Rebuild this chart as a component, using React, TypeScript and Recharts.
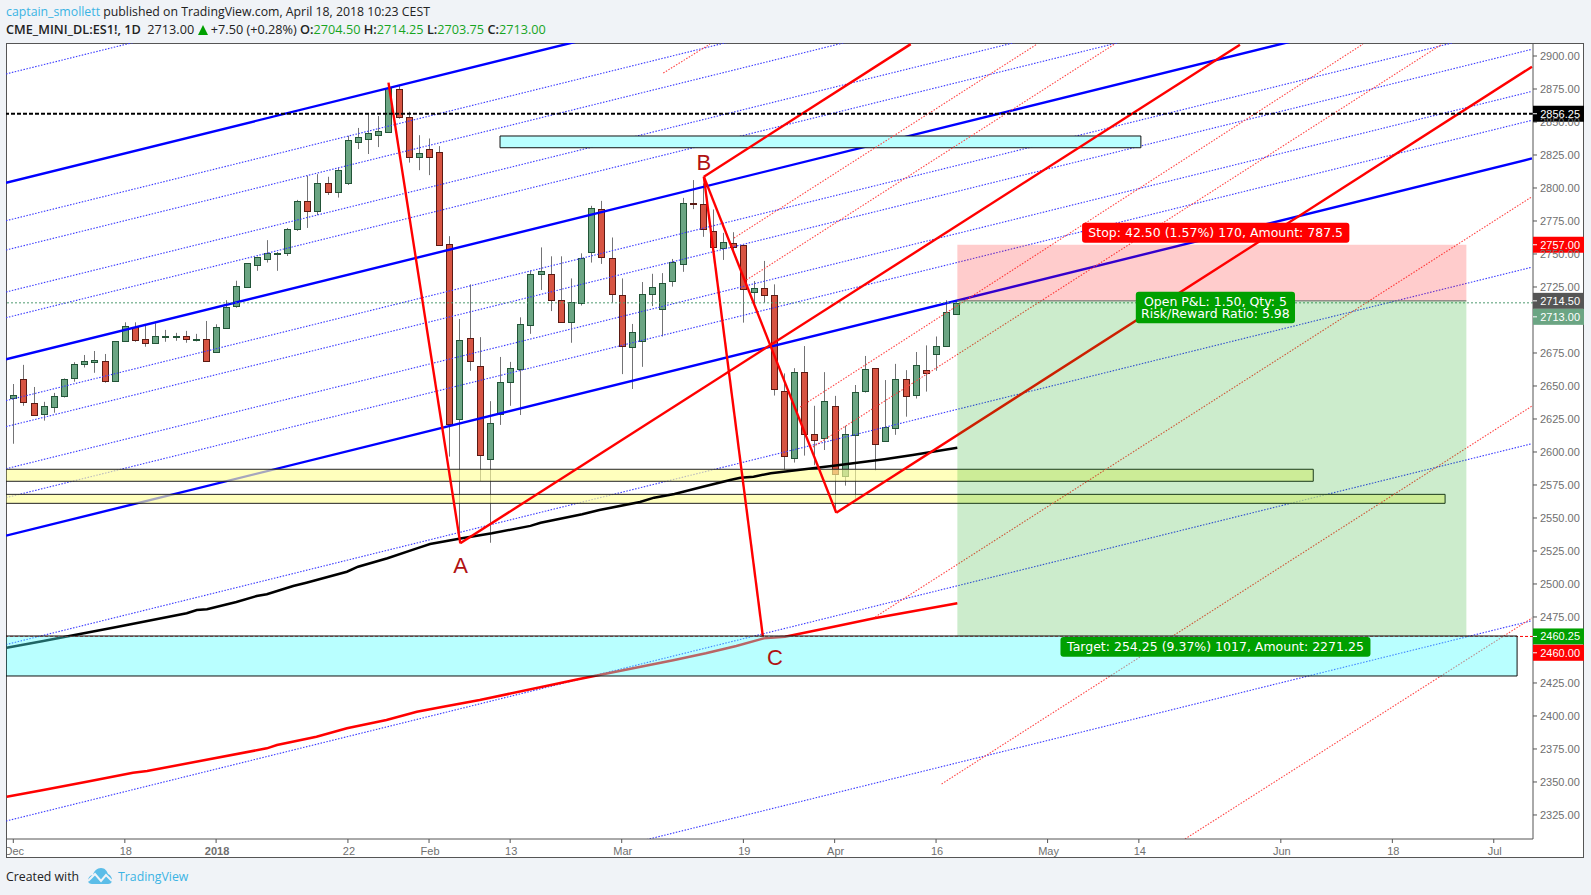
import React from 'react';
import { ComposedChart, Bar, Line, XAxis, YAxis, ReferenceLine, ReferenceArea, ReferenceDot, Label } from 'recharts';

const opens = [2641.25,2655,2637,2629,2633.75,2642.75,2655.75,2666.5,2668,2668.75,2653.5,2683.75,2695,2685.5,2682.25,2687,2687,2687.5,2684.5,2685.5,2675.5,2693.75,2710.5,2725.25,2742,2746.5,2750.5,2750.5,2769.25,2790,2782.75,2803.5,2797.25,2804,2835,2837.25,2840.5,2842.5,2874.75,2853.5,2823.25,2829.25,2827,2757.25,2624.75,2686,2665,2594.5,2628.5,2653.25,2662.5,2696,2734.5,2734.5,2715,2698.75,2713,2751.75,2783.75,2746.75,2718.75,2679.25,2683.75,2719.5,2708,2729.25,2742.25,2789,2787.5,2767.25,2754.75,2758,2756.5,2721.5,2724,2718.75,2646,2595.25,2660.5,2613.5,2610.5,2635,2581.5,2612.5,2646,2663.5,2608,2618,2655,2643,2662,2674,2680,2704.5];
const highs = [2651.5,2666,2649.25,2638,2644.75,2655.75,2668,2673.5,2676.5,2674.25,2683.75,2698.25,2698.25,2695.75,2697.5,2692.5,2690.25,2691.75,2689.5,2699.25,2696.75,2715,2729.75,2743,2748,2760.5,2751.5,2769.75,2791,2809.25,2810.5,2808.5,2815.5,2839.5,2845.5,2856.5,2854.5,2879.25,2878,2857.75,2840,2837.5,2831.75,2763.5,2700.75,2727,2687,2638.5,2672,2668.25,2702,2737.5,2755,2748.25,2748.25,2731.5,2750.5,2786.5,2790.25,2762.5,2731.5,2697,2728.75,2735,2735.5,2746.25,2792.5,2806,2803.5,2783.75,2766,2766.5,2756.5,2729.5,2744.75,2727,2659.5,2663.5,2680.25,2635,2660.5,2642.5,2619.75,2650.75,2672.75,2663.5,2654.5,2666.75,2662,2675.75,2680.75,2687.5,2715,2714.25];
const lows = [2606.25,2635,2627.25,2623.75,2629.75,2641.25,2653.25,2664,2660,2652.5,2653.5,2683.75,2683.5,2679.75,2682.25,2683.5,2684.25,2682.75,2683.75,2668.75,2675.5,2693.25,2709.25,2724.75,2737.25,2743.5,2737.25,2748.5,2767.5,2769.75,2779.5,2794.75,2792.75,2802.25,2829.5,2825.75,2831,2842,2852.5,2819.25,2813.5,2809.75,2756.5,2596.5,2534.5,2661.5,2578,2531.25,2620.5,2635,2628,2689.5,2722.75,2706.75,2698.75,2682.75,2711,2743.5,2742.5,2713,2659,2647.75,2664.5,2710.5,2687.5,2725.25,2736.5,2784,2763,2755.5,2745.5,2751.75,2698,2712.5,2713,2642.75,2586.5,2592,2597.25,2590,2601.5,2554,2574.5,2563.5,2645,2586,2608,2613,2626.75,2640.5,2645.75,2661.5,2680,2703.75];
const closes = [2643,2637.5,2627.75,2634.5,2642.25,2655,2666.5,2668.75,2669.5,2653.5,2683.75,2695.75,2684.5,2682.25,2687.5,2687.5,2687.5,2685.5,2685.5,2668.75,2694.5,2709.5,2725.5,2743,2747.5,2750.5,2751,2769.25,2790,2782.75,2803.5,2797.25,2813.5,2836,2838.5,2841.5,2843,2875.5,2853.5,2823.25,2826.25,2823.75,2757,2621,2684.5,2668.75,2597.5,2621.75,2652.75,2664,2696.75,2734.5,2737,2715.5,2698.75,2714,2746.75,2784.5,2747.5,2719.5,2680,2690.75,2719.5,2724.75,2727.75,2743.75,2788.5,2788.5,2768.75,2755.5,2758.75,2755.5,2723.25,2724,2718.75,2647.5,2596.75,2660.5,2613.5,2608.75,2638.5,2583,2613.5,2645.25,2662.5,2605.75,2618.75,2655,2642.75,2665.75,2659.5,2680,2705.75,2713];

const blackMA = [[-0.65,2451.7],[2.96,2456.8],[5.92,2461.1],[10.2,2467.4],[17.1,2477.8],[18.1,2480.3],[19.1,2480.8],[22,2486.3],[24,2490.9],[25,2492.2],[27.6,2498.5],[28.9,2501],[32.9,2509.3],[34,2513.1],[36.9,2519.5],[39.8,2527],[41.1,2530.3],[44.1,2534.4],[47.2,2538.4],[51,2544],[52,2546.4],[56.1,2552.8],[57.8,2556],[61.8,2562.1],[63.2,2565.4],[65.2,2568.2],[68,2573.7],[70.7,2578.8],[71.7,2580.5],[73,2581.3],[74.7,2583.9],[77.4,2586.4],[80.9,2589.6],[85.9,2594.5],[88.7,2597.7],[93.1,2603.2]];
const redMA = [[-0.65,2338.8],[2.96,2343.9],[7.24,2350.2],[11.8,2357],[13.2,2358.3],[25,2375.5],[26,2378],[29.9,2384.3],[32.9,2390.7],[36.8,2397],[39.8,2403.2],[42.4,2407],[46,2412.1],[55.7,2427.8],[65.2,2442.4],[68.3,2447.5],[71.3,2453],[74,2458.8],[76.1,2460.1],[80.9,2467.6],[84.9,2474],[93.1,2485.4]];

// channel lines, [price at the left edge, price at the right edge]
const LEFT = -0.72, RIGHT = 149.77;
const blueSolid = [[2804,3089.9],[2670.2,2956.1],[2536.6,2822.4]];
const blueDotted = [[2886.4,3172.3],[2775.2,3061.1],[2753,3038.9],[2721.2,3007.1],[2701.7,2987.6],[2638.9,2924.8],[2619.2,2905.1],[2587.3,2873.2],[2565.4,2851.3],[2454.1,2740],[2320.4,2606.3],[2186.3,2472.2]];
// [bar, price, bar, price]
const redSolid = [[37,2879.8,44.08,2530.8],[68.1,2808.6,73.93,2459.8],[68.1,2808.6,81.16,2554],[44.08,2530.8,120.97,2908.6],[68.1,2808.6,88.5,2909],[81.16,2554,149.77,2891.9]];
const redDotted = [[64.1,2887.1,68.7,2909],[71.07,2762.1,100.96,2909],[72.3,2730.3,108.6,2909],[77.6,2634.1,133.1,2909],[78.86,2603.8,140.9,2909],[85,2475,149.77,2793.4],[91.55,2348.5,149.77,2634.8],[115.55,2306.8,149.77,2474.2]];

const yTicks = [2325,2350,2375,2400,2425,2475,2500,2525,2550,2575,2600,2625,2650,2675,2725,2750,2775,2800,2825,2850,2875,2900];
const xTickLabels: Record<number,string> = {0:'Dec',11:'18',20:'2018',33:'22',41:'Feb',49:'13',60:'Mar',72:'19',81:'Apr',91:'16',102:'May',111:'14',125:'Jun',136:'18',146:'Jul'};
const xTicks = Object.keys(xTickLabels).map(Number);

const rows = opens.map((o,i)=>({i,o,h:highs[i],l:lows[i],c:closes[i],range:[lows[i],highs[i]]}));
const toRows = (a:number[][]) => a.map(([i,v])=>({i,v}));

const AXIS_FONT = '"Liberation Sans", Arial, sans-serif';
const HEAD_FONT = '"Open Sans", sans-serif';

function Candle(props:any){
  const {x,y,width,height,payload} = props;
  const {o,h,l,c} = payload;
  const cx = Math.round(x+width/2)+0.5;
  const span = Math.max(h-l,0.01);
  const yOf = (p:number)=> y+(h-p)/span*height;
  const up = c>=o;
  const t = Math.round(yOf(Math.max(o,c)))+0.5;
  const b = Math.round(yOf(Math.min(o,c)))+0.5;
  return <g>
    <line x1={cx} x2={cx} y1={y} y2={y+height} stroke="#737375" strokeWidth={1}/>
    <rect x={cx-3} y={t} width={6} height={Math.max(b-t,1)} fill={up?'#6ba583':'#d75442'} stroke={up?'#225437':'#5b1a13'} strokeWidth={1}/>
  </g>;
}

function XTick(props:any){
  const {x,y,payload} = props;
  const bold = payload.value===20;
  return <text x={x+1} y={y+10} textAnchor="middle" fontFamily={AXIS_FONT} fontSize={11} fontWeight={bold?700:400} fill="#6f6f6f">{xTickLabels[payload.value]}</text>;
}

function Flag(props:any){
  const {viewBox,text,bg,dy=0,color='#fff'} = props;
  const x0 = viewBox.x+viewBox.width;
  const yc = viewBox.y+dy;
  return <g>
    <rect x={x0} y={yc-8} width={51} height={16} fill={bg}/>
    <line x1={x0} x2={x0+4} y1={yc} y2={yc} stroke="#fff"/>
    <text x={x0+47} y={yc+4} textAnchor="end" fontFamily={AXIS_FONT} fontSize={11} fill={color}>{text}</text>
  </g>;
}

function BoxText(props:any){
  const {viewBox,lines} = props;
  const cx = viewBox.x+viewBox.width/2;
  const cy = viewBox.y+viewBox.height/2;
  const lh = 12.5;
  return <g>{lines.map((t:string,k:number)=>(
    <text key={k} x={cx} y={cy+4.5+(k-(lines.length-1)/2)*lh} textAnchor="middle" fontFamily={'"DejaVu Sans", sans-serif'} fontSize={12.5} fill="#fff">{t}</text>
  ))}</g>;
}

const Seg = (k:string,seg:number[],stroke:string,width:number,dash?:string,z?:number)=>(
  <ReferenceLine key={k} ifOverflow="hidden" segment={[{x:seg[0],y:seg[1]},{x:seg[2],y:seg[3]}]} stroke={stroke} strokeWidth={width} strokeDasharray={dash} zIndex={z}/>
);

const G = '#17a51f';
export default function App(){
  return <div style={{position:'absolute',left:0,top:0,width:1591,height:895,background:'#f0f3f7',overflow:'hidden'}}>
    <div style={{position:'absolute',left:6,top:3,fontFamily:HEAD_FONT,fontSize:12.3,lineHeight:'18px',color:'#222',whiteSpace:'nowrap'}}>
      <span style={{color:'#3bb3e4'}}>captain_smollett</span> published on TradingView.com, April 18, 2018 10:23 CEST
    </div>
    <div style={{position:'absolute',left:6,top:20,fontFamily:HEAD_FONT,fontSize:12.7,lineHeight:'18px',color:'#222',whiteSpace:'nowrap'}}>
      <b style={{fontWeight:600}}>CME_MINI_DL:ES1!, 1D</b> &nbsp;2713.00 <svg width={10} height={10} viewBox="0 0 10 10" style={{verticalAlign:'-1px'}}><path d="M5 0 L10 10 L0 10 Z" fill="#00a000"/></svg> +7.50 (+0.28%) <b style={{fontWeight:600}}>O:</b><span style={{color:G}}>2704.50</span> <b style={{fontWeight:600}}>H:</b><span style={{color:G}}>2714.25</span> <b style={{fontWeight:600}}>L:</b><span style={{color:G}}>2703.75</span> <b style={{fontWeight:600}}>C:</b><span style={{color:G}}>2713.00</span>
    </div>
    <div style={{position:'absolute',left:6,top:43,width:1578,height:815,boxSizing:'border-box',background:'#fff',border:'1px solid #555'}}/>
    <div style={{position:'absolute',left:0,top:0}}>
      <ComposedChart width={1591} height={895} data={rows} margin={{top:43,left:6,right:7,bottom:37}}>
        <XAxis dataKey="i" type="number" domain={[LEFT,149.87]} allowDataOverflow ticks={xTicks} interval={0} tick={<XTick/>} tickSize={4} stroke="#555" height={19}/>
        <YAxis orientation="right" type="number" domain={[2306.8,2909.85]} allowDataOverflow ticks={yTicks} interval={0} tickFormatter={(v:number)=>v.toFixed(2)} tick={{fontFamily:AXIS_FONT,fontSize:11,fill:'#6f6f6f'}} tickSize={4} tickMargin={3} stroke="#555" width={51}/>

        <Bar dataKey="range" barSize={7} isAnimationActive={false} shape={<Candle/>} zIndex={100}/>

        {blueSolid.map((s,k)=>Seg('bs'+k,[LEFT,s[0],RIGHT,s[1]],'#0000ff',2.4,undefined,200))}
        {blueDotted.map((s,k)=>Seg('bd'+k,[LEFT,s[0],RIGHT,s[1]],'#3a3aff',1.1,'1.5 1.5',200))}
        <ReferenceLine y={2713} stroke="#4f9a70" strokeDasharray="2 2" strokeWidth={1} zIndex={200}/>

        <ReferenceArea x1={LEFT} x2={128.2} y1={2586.9} y2={2577.8} fill="#ffff99" fillOpacity={0.65} stroke="#222" strokeWidth={1} ifOverflow="hidden" zIndex={300}/>
        <ReferenceArea x1={LEFT} x2={141.2} y1={2567.9} y2={2561.1} fill="#ffff99" fillOpacity={0.65} stroke="#222" strokeWidth={1} ifOverflow="hidden" zIndex={300}/>
        <ReferenceArea x1={48} x2={111.2} y1={2839.4} y2={2830.5} fill="#b9ffff" fillOpacity={1} stroke="#111" strokeWidth={1} zIndex={300}/>

        <Line data={toRows(blackMA)} dataKey="v" stroke="#000" strokeWidth={2.5} dot={false} isAnimationActive={false} legendType="none" zIndex={320}/>
        <Line data={toRows(redMA)} dataKey="v" stroke="#ff0000" strokeWidth={2.5} dot={false} isAnimationActive={false} legendType="none" zIndex={320}/>

        {redSolid.map((s,k)=>Seg('rs'+k,s,'#ff0000',2.4,undefined,350))}
        {redDotted.map((s,k)=>Seg('rd'+k,s,'#ff4444',1.1,'1.5 1.5',350))}

        <ReferenceArea x1={93.1} x2={143.3} y1={2757} y2={2714.5} fill="#ff0000" fillOpacity={0.2} stroke="none" zIndex={400}/>
        <ReferenceArea x1={93.1} x2={143.3} y1={2714.5} y2={2460.25} fill="#00a000" fillOpacity={0.2} stroke="none" zIndex={400}/>
        <ReferenceLine segment={[{x:93.1,y:2714.5},{x:143.3,y:2714.5}]} stroke="#666" strokeWidth={1} zIndex={400}/>

        <ReferenceLine y={2856.25} stroke="#000" strokeWidth={2} strokeDasharray="4 2" zIndex={450}/>
        <ReferenceLine y={2460.25} stroke="#ff0000" strokeWidth={1} strokeDasharray="3 2" zIndex={450}/>

        <ReferenceDot x={44.1} y={2514.4} r={0} fill="none" stroke="none" zIndex={500} label={{value:'A',position:'center',fill:'#b01212',fontSize:22,fontFamily:AXIS_FONT}}/>
        <ReferenceDot x={68.1} y={2819.9} r={0} fill="none" stroke="none" zIndex={500} label={{value:'B',position:'center',fill:'#b01212',fontSize:22,fontFamily:AXIS_FONT}}/>
        <ReferenceDot x={75.1} y={2444.3} r={0} fill="none" stroke="none" zIndex={500} label={{value:'C',position:'center',fill:'#b01212',fontSize:22,fontFamily:AXIS_FONT}}/>

        <ReferenceArea x1={LEFT} x2={148.3} y1={2460.6} y2={2430.3} fill="#50ffff" fillOpacity={0.4} stroke="#111" strokeWidth={1} ifOverflow="hidden" zIndex={550}/>

        <ReferenceLine y={2856.25} stroke="none" zIndex={600} label={<Flag text="2856.25" bg="#000"/>}/>
        <ReferenceLine y={2460.25} stroke="none" zIndex={600} label={<Flag text="2460.25" bg="#00a000"/>}/>
        <ReferenceLine y={2460} stroke="none" zIndex={600} label={<Flag text="2460.00" bg="#ff0000" dy={16}/>}/>
        <ReferenceLine y={2757} stroke="none" zIndex={600} label={<Flag text="2757.00" bg="#ff0000" dy={0}/>}/>
        <ReferenceLine y={2714.5} stroke="none" zIndex={600} label={<Flag text="2714.50" bg="#555555"/>}/>
        <ReferenceLine y={2713} stroke="none" zIndex={600} label={<Flag text="2713.00" bg="#6ba583" dy={14}/>}/>

        <ReferenceArea x1={105.4} x2={131.76} y1={2773.7} y2={2758.6} fill="#ff0000" fillOpacity={1} radius={3} stroke="none" zIndex={700}><Label content={<BoxText lines={['Stop: 42.50 (1.57%) 170, Amount: 787.5']}/>}/></ReferenceArea>
        <ReferenceArea x1={110.7} x2={126.4} y1={2721.4} y2={2697.5} fill="#00a000" fillOpacity={1} radius={3} stroke="none" zIndex={700}><Label content={<BoxText lines={['Open P&L: 1.50, Qty: 5','Risk/Reward Ratio: 5.98']}/>}/></ReferenceArea>
        <ReferenceArea x1={103.27} x2={133.84} y1={2459.8} y2={2444.9} fill="#00a000" fillOpacity={1} radius={3} stroke="none" zIndex={700}><Label content={<BoxText lines={['Target: 254.25 (9.37%) 1017, Amount: 2271.25']}/>}/></ReferenceArea>
      </ComposedChart>
    </div>
    <div style={{position:'absolute',left:0,top:840,width:7,height:18,boxSizing:'border-box',background:'#f0f3f7',borderRight:'1px solid #555'}}/>
    <div style={{position:'absolute',left:6,top:868,fontFamily:HEAD_FONT,fontSize:12.3,lineHeight:'18px',color:'#222',whiteSpace:'nowrap'}}>Created with</div>
    <svg style={{position:'absolute',left:87,top:866}} width={26} height={20} viewBox="0 0 26 20">
      <path d="M1 15 C1 11 4 9 6 9 C7 5 10 2 14 2 C18 2 20 5 21 8 C24 9 25 12 25 14 C25 17 23 18 21 18 L5 18 C3 18 1 17 1 15 Z" fill="#5bbde8"/>
      <path d="M1 15 L8 8 L14 15 L19 9 L25 15" fill="none" stroke="#f0f3f7" strokeWidth={2}/>
    </svg>
    <div style={{position:'absolute',left:118,top:868,fontFamily:HEAD_FONT,fontSize:12.3,lineHeight:'18px',color:'#3bb3e4',whiteSpace:'nowrap'}}>TradingView</div>
  </div>;
}
